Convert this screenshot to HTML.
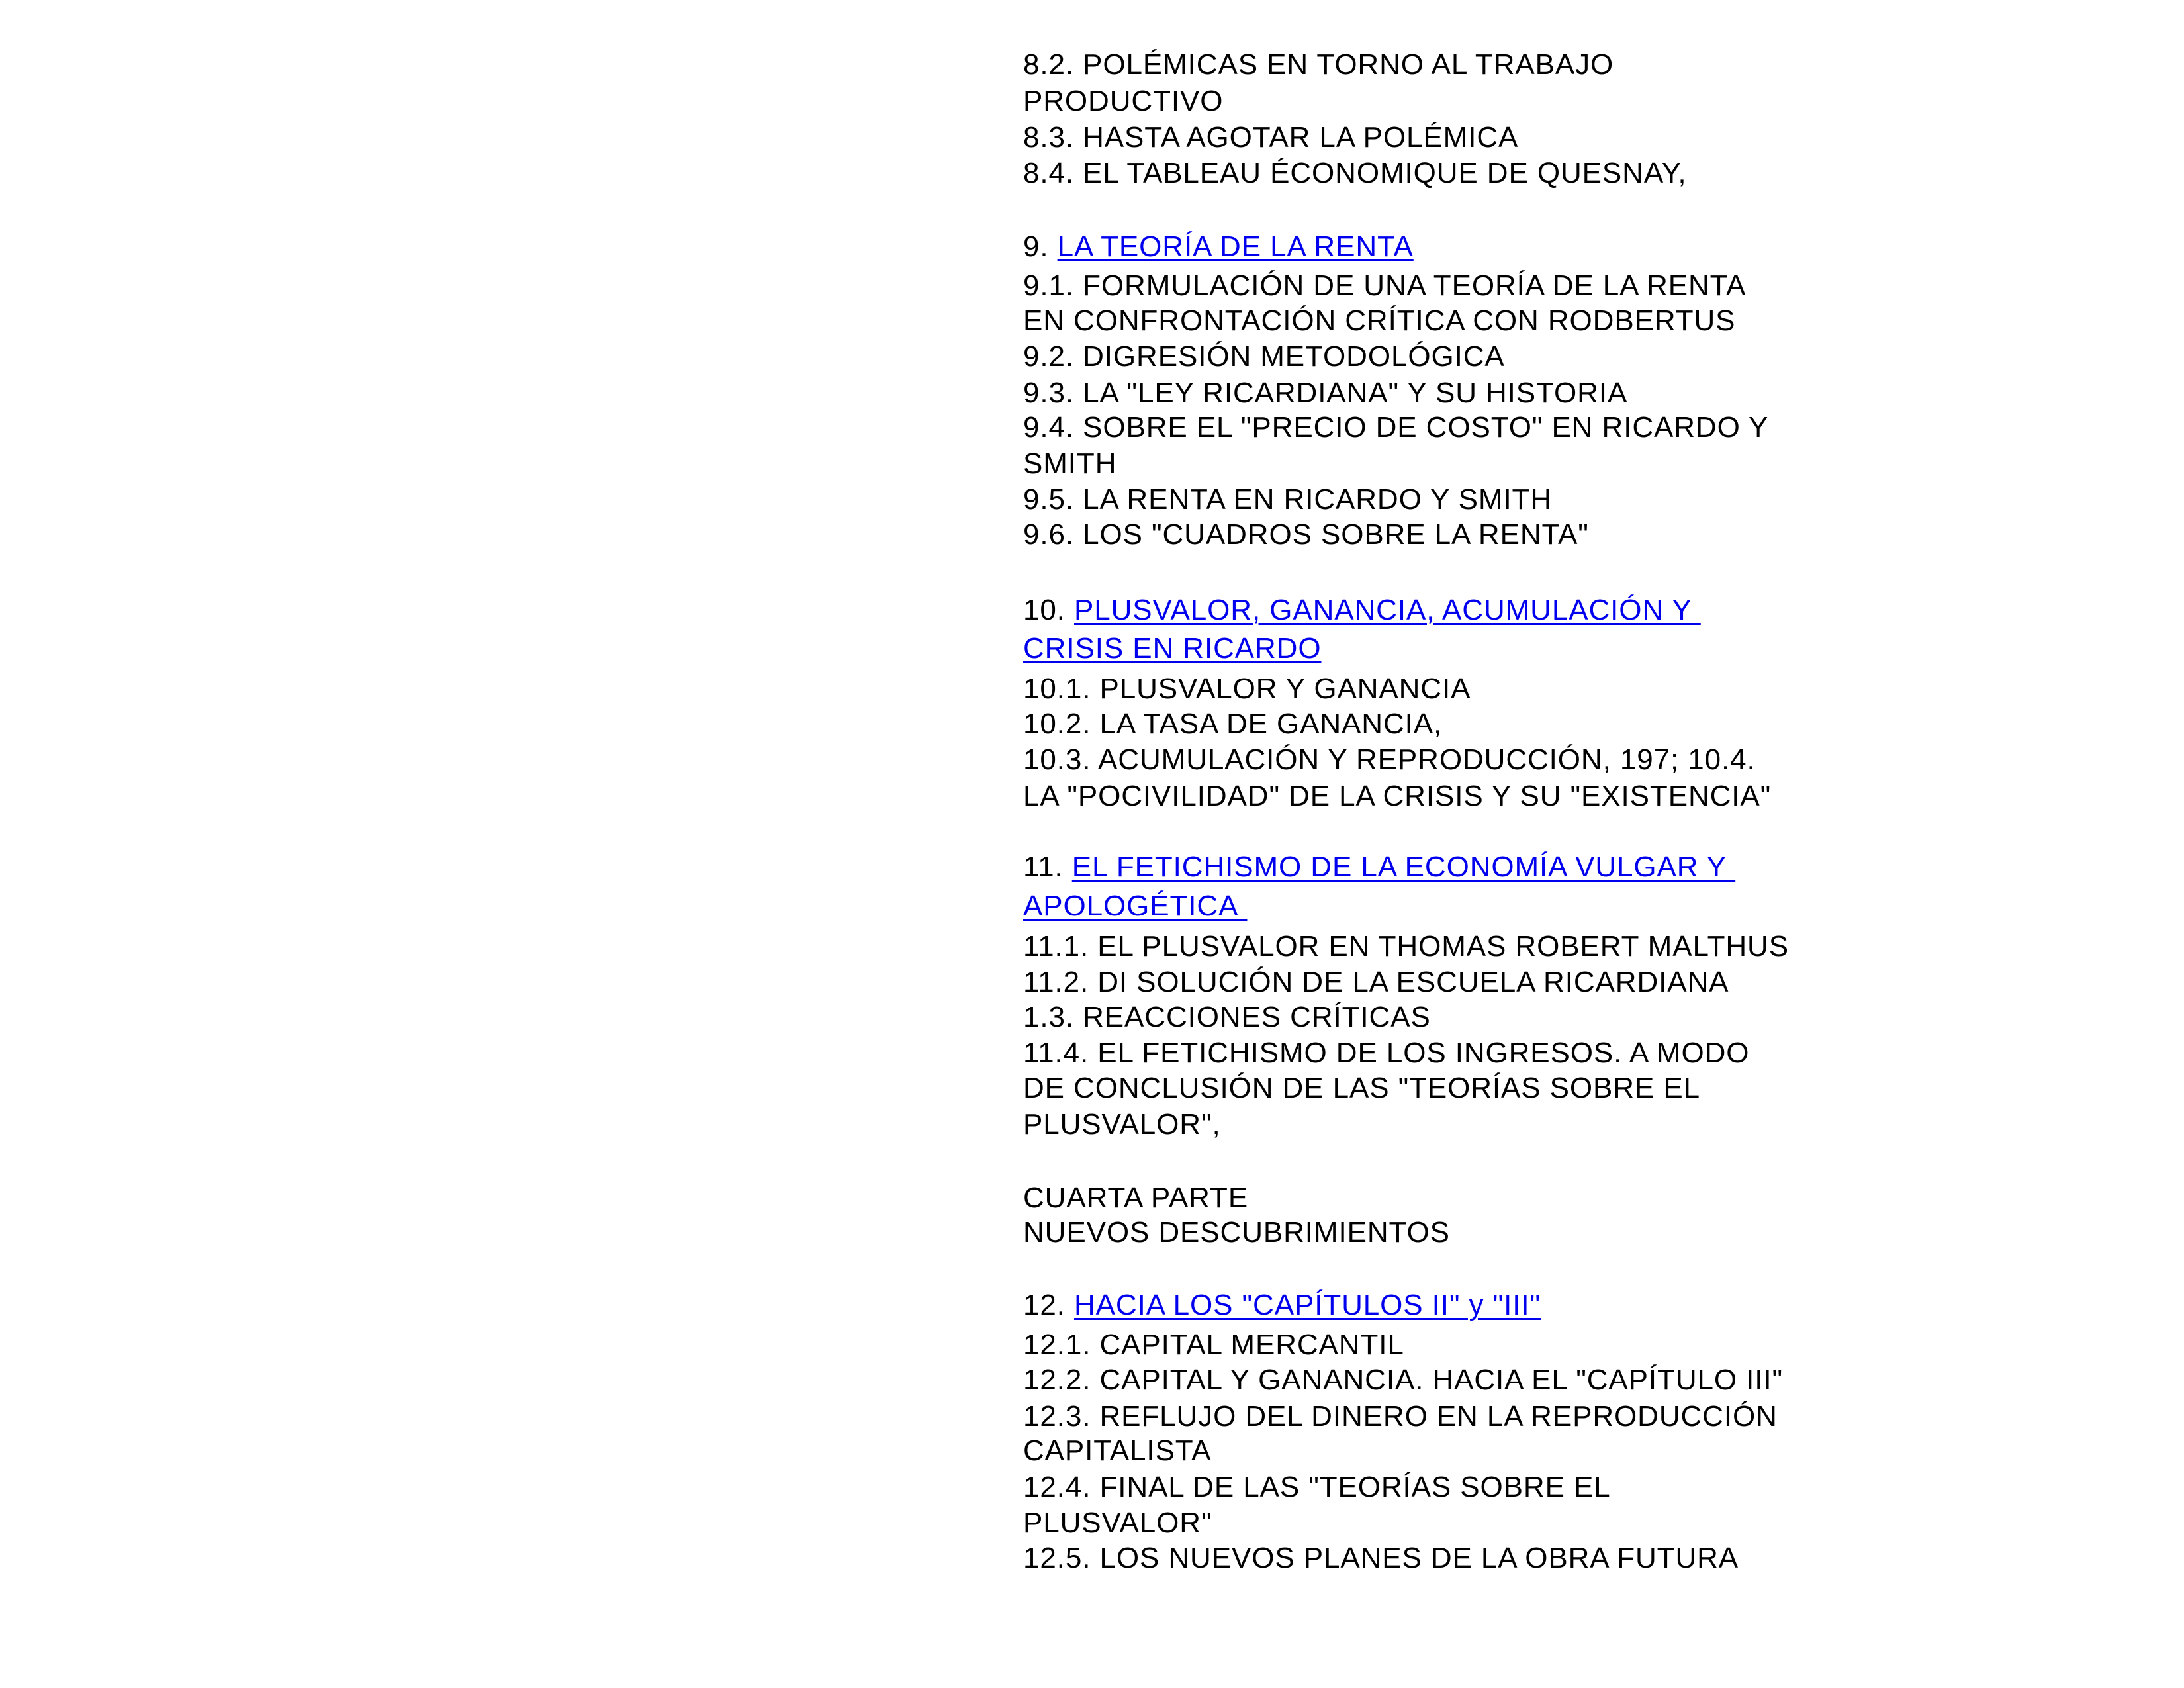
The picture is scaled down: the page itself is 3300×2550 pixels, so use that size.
<!DOCTYPE html>
<html><head><meta charset="utf-8"><style>
html,body{margin:0;padding:0;background:#fff}
body{width:3300px;height:2550px;position:relative;overflow:hidden;font-family:"Liberation Sans",Arial,sans-serif;font-size:44px;letter-spacing:0.9px;color:#000}
div{position:absolute;left:1546px;line-height:43px;white-space:nowrap}
a{color:#0000ee;text-decoration:underline;text-decoration-thickness:3px;text-underline-offset:5px}
</style></head><body>
<div style="top:76px">8.2. POLÉMICAS EN TORNO AL TRABAJO</div>
<div style="top:131px">PRODUCTIVO</div>
<div style="top:186px">8.3. HASTA AGOTAR LA POLÉMICA</div>
<div style="top:240px">8.4. EL TABLEAU ÉCONOMIQUE DE QUESNAY,</div>
<div style="top:351px">9. <a>LA TEORÍA DE LA RENTA</a></div>
<div style="top:410px">9.1. FORMULACIÓN DE UNA TEORÍA DE LA RENTA</div>
<div style="top:463px">EN CONFRONTACIÓN CRÍTICA CON RODBERTUS</div>
<div style="top:517px">9.2. DIGRESIÓN METODOLÓGICA</div>
<div style="top:572px">9.3. LA "LEY RICARDIANA" Y SU HISTORIA</div>
<div style="top:624px">9.4. SOBRE EL "PRECIO DE COSTO" EN RICARDO Y</div>
<div style="top:679px">SMITH</div>
<div style="top:733px">9.5. LA RENTA EN RICARDO Y SMITH</div>
<div style="top:786px">9.6. LOS "CUADROS SOBRE LA RENTA"</div>
<div style="top:900px">10. <a>PLUSVALOR, GANANCIA, ACUMULACIÓN Y&nbsp;</a></div>
<div style="top:958px"><a>CRISIS EN RICARDO</a></div>
<div style="top:1019px">10.1. PLUSVALOR Y GANANCIA</div>
<div style="top:1072px">10.2. LA TASA DE GANANCIA,</div>
<div style="top:1126px">10.3. ACUMULACIÓN Y REPRODUCCIÓN, 197; 10.4.</div>
<div style="top:1181px">LA "POCIVILIDAD" DE LA CRISIS Y SU "EXISTENCIA"</div>
<div style="top:1288px">11. <a>EL FETICHISMO DE LA ECONOMÍA VULGAR Y&nbsp;</a></div>
<div style="top:1347px"><a>APOLOGÉTICA&nbsp;</a></div>
<div style="top:1408px">11.1. EL PLUSVALOR EN THOMAS ROBERT MALTHUS</div>
<div style="top:1462px">11.2. DI SOLUCIÓN DE LA ESCUELA RICARDIANA</div>
<div style="top:1515px">1.3. REACCIONES CRÍTICAS</div>
<div style="top:1569px">11.4. EL FETICHISMO DE LOS INGRESOS. A MODO</div>
<div style="top:1622px">DE CONCLUSIÓN DE LAS "TEORÍAS SOBRE EL</div>
<div style="top:1677px">PLUSVALOR",</div>
<div style="top:1788px">CUARTA PARTE</div>
<div style="top:1840px">NUEVOS DESCUBRIMIENTOS</div>
<div style="top:1950px">12. <a>HACIA LOS "CAPÍTULOS II" y "III"</a></div>
<div style="top:2010px">12.1. CAPITAL MERCANTIL</div>
<div style="top:2063px">12.2. CAPITAL Y GANANCIA. HACIA EL "CAPÍTULO III"</div>
<div style="top:2118px">12.3. REFLUJO DEL DINERO EN LA REPRODUCCIÓN</div>
<div style="top:2170px">CAPITALISTA</div>
<div style="top:2225px">12.4. FINAL DE LAS "TEORÍAS SOBRE EL</div>
<div style="top:2279px">PLUSVALOR"</div>
<div style="top:2332px">12.5. LOS NUEVOS PLANES DE LA OBRA FUTURA</div>
</body></html>
